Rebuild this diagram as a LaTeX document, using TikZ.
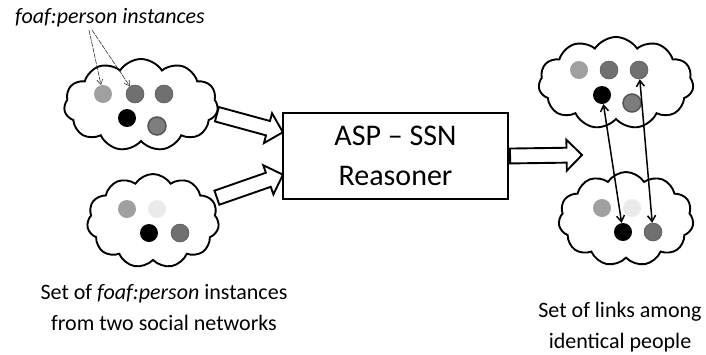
\documentclass[tikz,border=0pt]{standalone}
\usepackage{fontspec}
\setmainfont{Carlito}
\usetikzlibrary{shapes.symbols,shapes.arrows,arrows.meta}
\definecolor{lgrey}{RGB}{160,160,160}
\definecolor{dgrey}{RGB}{112,112,112}
\definecolor{vlgrey}{RGB}{234,234,234}
\definecolor{rgrey}{RGB}{125,125,125}
\definecolor{rline}{RGB}{85,85,85}
\begin{document}
\begin{tikzpicture}[x=1pt,y=-1pt,
  cloudy/.style={cloud, cloud puffs=11, cloud puff arc=115, draw, line width=1.9pt, inner sep=0pt},
  dotnode/.style={circle, inner sep=0pt, minimum size=18pt},
  hollow/.style={single arrow, draw, line width=1.9pt, fill=white, inner xsep=0pt, inner ysep=6.5pt,
    single arrow head extend=8pt, single arrow head indent=0pt, sloped, anchor=tail},
  link/.style={line width=1.5pt, {Straight Barb[length=6pt,width=8pt]}-{Straight Barb[length=6pt,width=8pt]}},
  ann/.style={line width=0.6pt, dash pattern=on 5pt off 1pt, -{Straight Barb[length=5pt,width=6pt]}, black!80},
  lbl/.style={font=\fontsize{22}{31}\selectfont, align=center, inner sep=0pt}
]
\useasboundingbox (0,0) rectangle (706,354);

% clouds
\node[cloudy, minimum width=154pt, minimum height=92pt, aspect=1.67] (c1) at (141,105) {};
\node[cloudy, minimum width=132pt, minimum height=94pt, aspect=1.4] (c2) at (153,221) {};
\node[cloudy, minimum width=155pt, minimum height=92pt, aspect=1.68] (c3) at (616,83) {};
\node[cloudy, minimum width=135pt, minimum height=94pt, aspect=1.44] (c4) at (626,219) {};

% dots, left top
\node[dotnode, fill=lgrey] (a1) at (103,94) {};
\node[dotnode, fill=dgrey, draw=rline, line width=0.5pt] (a2) at (135,94) {};
\node[dotnode, fill=dgrey, draw=rline, line width=0.5pt] (a3) at (164,94) {};
\node[dotnode, fill=black] (a4) at (127,118) {};
\node[dotnode, fill=rgrey, draw=rline, line width=1.5pt] (a5) at (157,126) {};
% dots, left bottom
\node[dotnode, fill=lgrey] (b1) at (127,209) {};
\node[dotnode, fill=vlgrey] (b2) at (157,209) {};
\node[dotnode, fill=black] (b3) at (149,233) {};
\node[dotnode, fill=dgrey, draw=rline, line width=0.5pt] (b4) at (180,233) {};
% dots, right top
\node[dotnode, fill=lgrey] (r1) at (579,70) {};
\node[dotnode, fill=dgrey, draw=rline, line width=0.5pt] (r2) at (609,70) {};
\node[dotnode, fill=dgrey, draw=rline, line width=0.5pt] (r3) at (639,70) {};
\node[dotnode, fill=black] (r4) at (602,95) {};
\node[dotnode, fill=rgrey, draw=rline, line width=1.5pt] (r5) at (632,103) {};
% dots, right bottom
\node[dotnode, fill=lgrey] (s1) at (602,208) {};
\node[dotnode, fill=vlgrey] (s2) at (632,208) {};
\node[dotnode, fill=black] (s3) at (623,232) {};
\node[dotnode, fill=dgrey, draw=rline, line width=0.5pt] (s4) at (653,232) {};

% reasoner box
\node[draw, line width=2.2pt, minimum width=225pt, minimum height=86pt, inner sep=0pt,
  font=\fontsize{30}{40}\selectfont, align=center] (box) at (395.5,156) {ASP -- SSN\\Reasoner};

% hollow arrows
\coordinate (t1) at (216,114);
\coordinate (h1) at (282,132);
\coordinate (t2) at (216,198);
\coordinate (h2) at (282,175);
\coordinate (h3) at (580,155);
\path (t1) -- (h1) node[hollow, pos=0, minimum height=68.4pt] {};
\path (t2) -- (h2) node[hollow, pos=0, minimum height=69.9pt] {};
\path (box.east) -- (h3) node[hollow, pos=0, minimum height=72pt] {};

% links among identical people
\draw[link] (r4) -- (s3);
\draw[link] (r3) -- (s4);

% labels
\node[lbl, font=\fontsize{22}{30}\selectfont\itshape] (top) at (110,18) {foaf:person instances};
\coordinate (p1) at (89,30);
\coordinate (p2) at (92,30);
\draw[ann] (p1) -- (a1);
\draw[ann] (p2) -- (a2);

\node[lbl] (left) at (164,308) {Set of \textit{foaf:person} instances\\from two social networks};
\node[lbl] (right) at (620,327) {Set of links among\\identical people};
\end{tikzpicture}
\end{document}
